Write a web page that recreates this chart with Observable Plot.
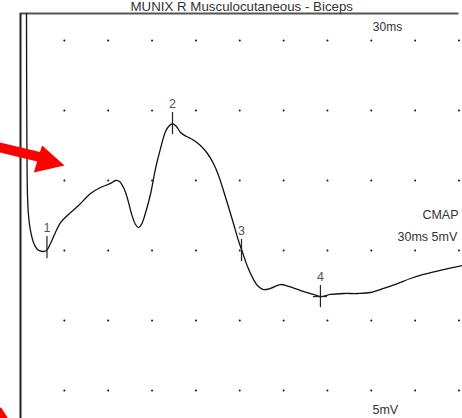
<!DOCTYPE html>
<html>
<head>
<meta charset="utf-8">
<script src="https://cdn.jsdelivr.net/npm/d3@7"></script>
<script src="https://cdn.jsdelivr.net/npm/@observablehq/plot@0.6"></script>
<style>
  html, body { margin: 0; padding: 0; background: #fff; }
  #chart svg { display: block; }
</style>
</head>
<body>
<div id="chart"></div>
<script>
// ---- data (ms, mV) ----
const title = "MUNIX R Musculocutaneous - Biceps";
const traceMs = [0.41,0.44,0.48,0.55,0.68,0.89,1.16,1.51,1.78,2.05,2.39,2.74,3.28,3.97,4.79,5.47,6.16,6.50,6.77,7.05,7.32,7.59,7.87,8.07,8.28,8.48,8.89,9.24,9.58,9.92,10.19,10.40,10.67,10.95,11.36,11.77,12.31,12.79,13.20,13.55,13.82,14.16,14.57,14.91,15.19,15.53,15.87,16.21,16.63,17.10,17.79,18.34,19.16,20.04,20.52,21.21,22.10,23.06,23.95,24.84,25.79,26.68,27.57,28.94,30.24];
const traceMv = [11.93,2.14,-1.07,-2.5,-3.57,-4.43,-4.93,-5.07,-5.0,-4.5,-3.71,-3.0,-2.43,-1.79,-0.93,-0.5,-0.21,0,-0.07,-0.5,-1.29,-2.36,-3.14,-3.36,-3.14,-2.57,-1.0,0.86,2.29,3.5,3.93,4.07,3.86,3.43,3.14,2.93,2.5,1.93,1.21,0.36,-0.5,-1.64,-3.07,-4.29,-5.14,-6.14,-6.93,-7.5,-7.79,-7.71,-7.43,-7.57,-7.86,-8.14,-8.29,-8.14,-8.07,-8.07,-8.0,-7.71,-7.36,-7.0,-6.71,-6.36,-6.07];

const markerLabels = ["1","2","3","4"];
const markerMs = [1.81, 10.40, 15.12, 20.52];
const markerMv = [-4.79, 4.07, -5.0, -8.29];

const xTicks = [3,6,9,12,15,18,21,24,27,30];   // ms, 3 ms/div
const yTicks = [10,5,0,-5,-10,-15];            // mV, 5 mV/div

const sweepLabel = "30ms";
const channelLabel = "CMAP";
const settingsLabel = "30ms 5mV";
const gainLabel = "5mV";

// red annotation arrows (ms, mV)
const arrowMs = [-1.57, 1.33, 1.48, 3.01, 0.91, 1.14, -1.57];
const arrowMv = [2.75, 2.03, 2.5, 1.07, 0.57, 1.36, 2.04];
const arrow2Ms = [-1.57, -1.30, -0.82, -1.57];
const arrow2Mv = [-16.14, -16.25, -17.04, -17.04];

// ---- build tables ----
const trace = traceMs.map((t, i) => ({t, v: traceMv[i]}));
const markers = markerLabels.map((n, i) => ({n, t: markerMs[i], v: markerMv[i]}));
const grid = xTicks.flatMap(t => yTicks.map(v => ({t, v})));
const arrow1 = arrowMs.map((t, i) => ({t, v: arrowMv[i]}));
const arrow2 = arrow2Ms.map((t, i) => ({t, v: arrow2Mv[i]}));

const yMin = -17, yMax = 11.93;
const font = "Liberation Sans, Arial, sans-serif";

const chart = Plot.plot({
  width: 462,
  height: 418,
  marginLeft: 20,
  marginRight: 3.5,
  marginTop: 13,
  marginBottom: 0,
  x: {domain: [0, 30], axis: null},
  y: {domain: [yMin, yMax], axis: null},
  style: {fontFamily: font, fontSize: "12px", background: "#fff", overflow: "visible"},
  marks: [
    Plot.dot(grid, {x: "t", y: "v", r: 1, fill: "#111", stroke: null}),
    Plot.ruleY([yMax], {stroke: "#555", strokeWidth: 2}),
    Plot.ruleX([0], {stroke: "#222", strokeWidth: 2}),
    Plot.line(trace, {x: "t", y: "v", stroke: "#111", strokeWidth: 1.3, curve: "catmull-rom"}),
    Plot.ruleX(markers, {x: "t", y1: d => d.v - 0.79, y2: d => d.v + 0.79, stroke: "#222", strokeWidth: 1.2}),
    Plot.ruleY(markers.filter(d => d.n === "4"), {y: "v", x1: d => d.t - 0.48, x2: d => d.t + 0.48, stroke: "#222", strokeWidth: 1.2}),
    Plot.text(markers, {x: "t", y: "v", text: "n", dy: -16, lineAnchor: "bottom", fill: "#555", fontSize: 12.5}),
    Plot.text([title], {frameAnchor: "top", dx: 2, dy: -3, lineAnchor: "bottom", fill: "#333", fontSize: 13.3}),
    Plot.text([sweepLabel], {frameAnchor: "top-right", textAnchor: "middle", dx: -71.5, dy: 17, lineAnchor: "bottom", fill: "#333", fontSize: 12}),
    Plot.text([channelLabel], {frameAnchor: "right", textAnchor: "end", dx: -0.5, dy: 2.5, lineAnchor: "bottom", fill: "#333", fontSize: 12.5}),
    Plot.text([settingsLabel], {frameAnchor: "right", textAnchor: "start", dx: -61.5, dy: 24.5, lineAnchor: "bottom", fill: "#333", fontSize: 12.5}),
    Plot.text([gainLabel], {frameAnchor: "bottom-right", textAnchor: "start", dx: -86.5, dy: -5, lineAnchor: "bottom", fill: "#333", fontSize: 12.5}),
    Plot.line(arrow1, {x: "t", y: "v", fill: "#ff0000", stroke: null, curve: "linear-closed"}),
    Plot.line(arrow2, {x: "t", y: "v", fill: "#ff0000", stroke: null, curve: "linear-closed"})
  ]
});
document.getElementById("chart").appendChild(chart);
</script>
</body>
</html>
